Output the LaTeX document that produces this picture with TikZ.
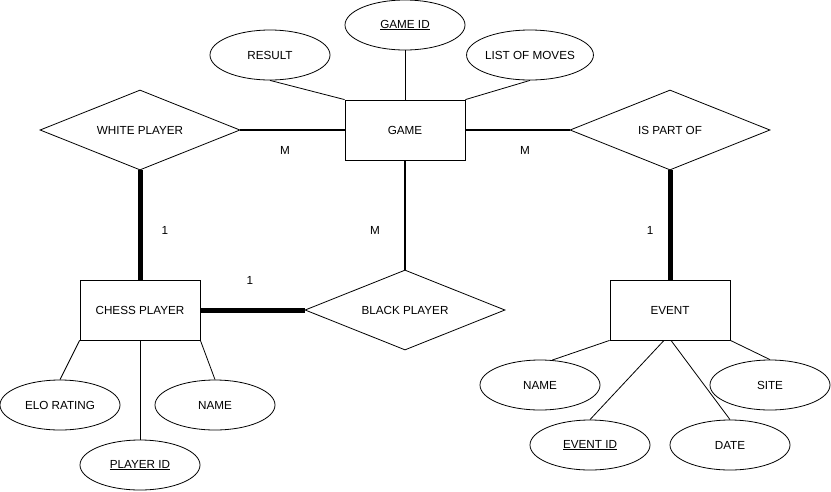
\documentclass[tikz,border=0pt]{standalone}
\usepackage{fontspec}
\setmainfont{Liberation Sans}
\usetikzlibrary{shapes.geometric}
\begin{document}
\begin{tikzpicture}[x=1pt,y=-1pt,
  every node/.style={font=\fontsize{11.7}{14}\selectfont, inner sep=0pt},
  entity/.style={draw, line width=0.8pt, rectangle, minimum width=120pt, minimum height=60pt},
  rel/.style={draw, line width=0.8pt, diamond, minimum width=200pt, minimum height=80pt, shape aspect=2.5},
  attr/.style={draw, line width=0.8pt, ellipse, minimum width=120pt, minimum height=50pt},
  thin/.style={line width=0.8pt},
  mid/.style={line width=1.6pt},
  heavy/.style={line width=5pt},
  card/.style={}
]
\useasboundingbox (0,0) rectangle (831,491);
% entities
\node[entity] (game) at (405,130) {GAME};
\node[entity] (cp) at (140,310) {CHESS PLAYER};
\node[entity] (ev) at (670,310) {EVENT};
% relationships
\node[rel] (white) at (140,130) {WHITE PLAYER};
\node[rel] (black) at (405,310) {BLACK PLAYER};
\node[rel] (part) at (670,130) {IS PART OF};
% game attributes
\node[attr] (gid) at (405,25) {\underline{GAME ID}};
\node[attr] (res) at (270,55) {RESULT};
\node[attr] (lom) at (530,55) {LIST OF MOVES};
% chess player attributes
\node[attr] (elo) at (60,405) {ELO RATING};
\node[attr] (pname) at (215,405) {NAME};
\node[attr] (pid) at (140,465) {\underline{PLAYER ID}};
% event attributes
\node[attr] (ename) at (540,385) {NAME};
\node[attr] (site) at (770,385) {SITE};
\node[attr] (eid) at (590,445) {\underline{EVENT ID}};
\node[attr] (date) at (730,445) {DATE};
% cardinalities
\node[card] (c1) at (285,150) {M};
\node[card] (c2) at (165,230) {1};
\node[card] (c3) at (250,280) {1};
\node[card] (c4) at (375,230) {M};
\node[card] (c5) at (525,150) {M};
\node[card] (c6) at (650,230) {1};
% connectors
\draw[thin] (res.south) -- (game.north west);
\draw[thin] (gid.south) -- (game.north);
\draw[thin] (lom.south) -- (game.north east);
\draw[mid] (white.east) -- (game.west);
\draw[mid] (game.east) -- (part.west);
\draw[mid] (game.south) -- (black.north);
\draw[heavy] (white.south) -- (cp.north);
\draw[heavy] (cp.east) -- (black.west);
\draw[heavy] (part.south) -- (ev.north);
\draw[thin] (cp.south west) -- (elo.north);
\draw[thin] (cp.south) -- (pid.north);
\draw[thin] (cp.south east) -- (pname.north);
\draw[thin] (ev.south west) -- (ename.64);
\draw[thin] ([xshift=-6pt]ev.south) -- (eid.north);
\draw[thin] ([xshift=1pt]ev.south) -- (date.north);
\draw[thin] (ev.south east) -- (site.north);
\end{tikzpicture}
\end{document}
